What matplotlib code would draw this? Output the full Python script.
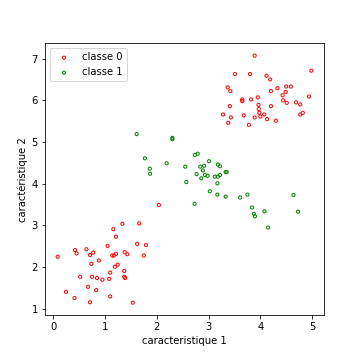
import numpy as np
import matplotlib
matplotlib.use("Agg")
import matplotlib.pyplot as plt

# classe 0 (rouge)
x0 = np.array([1.335, 1.16, 1.21, 1.05, 0.085, 0.42, 0.45, 0.64, 0.71, 0.77,
               0.88, 0.735, 1.14, 1.17, 1.21, 1.38, 1.43, 1.245, 1.19, 1.10,
               1.37, 1.37, 1.39, 0.52, 0.75, 0.845, 0.95, 1.08, 0.67, 0.83,
               0.245, 0.41, 0.71, 1.10, 2.04, 1.66, 1.62, 1.79, 1.75, 1.535,
               3.89, 3.51, 3.80, 4.12, 4.19, 4.985, 3.37, 3.42, 4.33, 4.50,
               4.59, 4.205, 4.49, 4.43, 3.95, 3.65, 3.65, 3.82, 4.44, 4.51,
               4.69, 4.77, 4.94, 3.41, 3.965, 4.205, 3.97, 3.98, 3.28, 3.68,
               4.075, 4.00, 3.89, 4.13, 3.43, 4.82, 4.77, 4.30, 3.38, 3.78])
y0 = np.array([3.04, 2.91, 2.73, 2.51, 2.25, 2.41, 2.33, 2.43, 2.29, 2.35,
               2.16, 2.08, 2.28, 2.28, 2.32, 2.36, 2.31, 2.06, 2.01, 1.87,
               1.91, 1.77, 1.74, 1.77, 1.77, 1.74, 1.70, 1.72, 1.53, 1.45,
               1.41, 1.26, 1.16, 1.30, 3.49, 3.05, 2.56, 2.53, 2.28, 1.15,
               7.07, 6.63, 6.63, 6.59, 6.50, 6.71, 6.31, 6.22, 6.29, 6.33,
               6.33, 6.22, 6.20, 6.12, 6.07, 6.02, 5.98, 6.02, 6.00, 5.94,
               5.95, 5.90, 6.09, 5.86, 5.89, 5.86, 5.79, 5.70, 5.66, 5.64,
               5.66, 5.61, 5.59, 5.55, 5.59, 5.70, 5.66, 5.51, 5.46, 5.41])

# classe 1 (vert)
x1 = np.array([1.61, 2.30, 2.30, 1.77, 1.865, 1.87, 2.19, 2.55, 2.57, 2.735,
               2.79, 3.01, 2.84, 2.915, 2.89, 2.77, 2.86, 2.93, 2.98, 3.18,
               3.22, 3.12, 3.18, 3.22, 3.17, 3.025, 3.17, 2.73, 3.33, 3.35,
               3.33, 3.61, 3.75, 4.64, 3.84, 4.08, 3.875, 3.895, 4.73, 4.15])
y1 = np.array([5.19, 5.10, 5.07, 4.61, 4.36, 4.24, 4.49, 4.41, 4.04, 4.69,
               4.72, 4.54, 4.41, 4.43, 4.32, 4.23, 4.13, 4.21, 4.19, 4.46,
               4.42, 4.17, 4.17, 4.21, 4.01, 3.82, 3.74, 3.52, 4.28, 4.28,
               3.69, 3.67, 3.74, 3.73, 3.43, 3.34, 3.28, 3.22, 3.33, 2.95])

fig = plt.figure(figsize=(5, 5), dpi=72)
ax = fig.add_axes([0.125, 0.125, 0.775, 0.7547])

ax.scatter(x0, y0, s=10, facecolors='none', edgecolors='red', label='classe 0')
ax.scatter(x1, y1, s=10, facecolors='none', edgecolors='green', label='classe 1')

ax.set_xlabel('caracteristique 1')
ax.set_ylabel('caractéristique 2')
ax.legend(loc='upper left')

fig.savefig('out.png', dpi=72)
